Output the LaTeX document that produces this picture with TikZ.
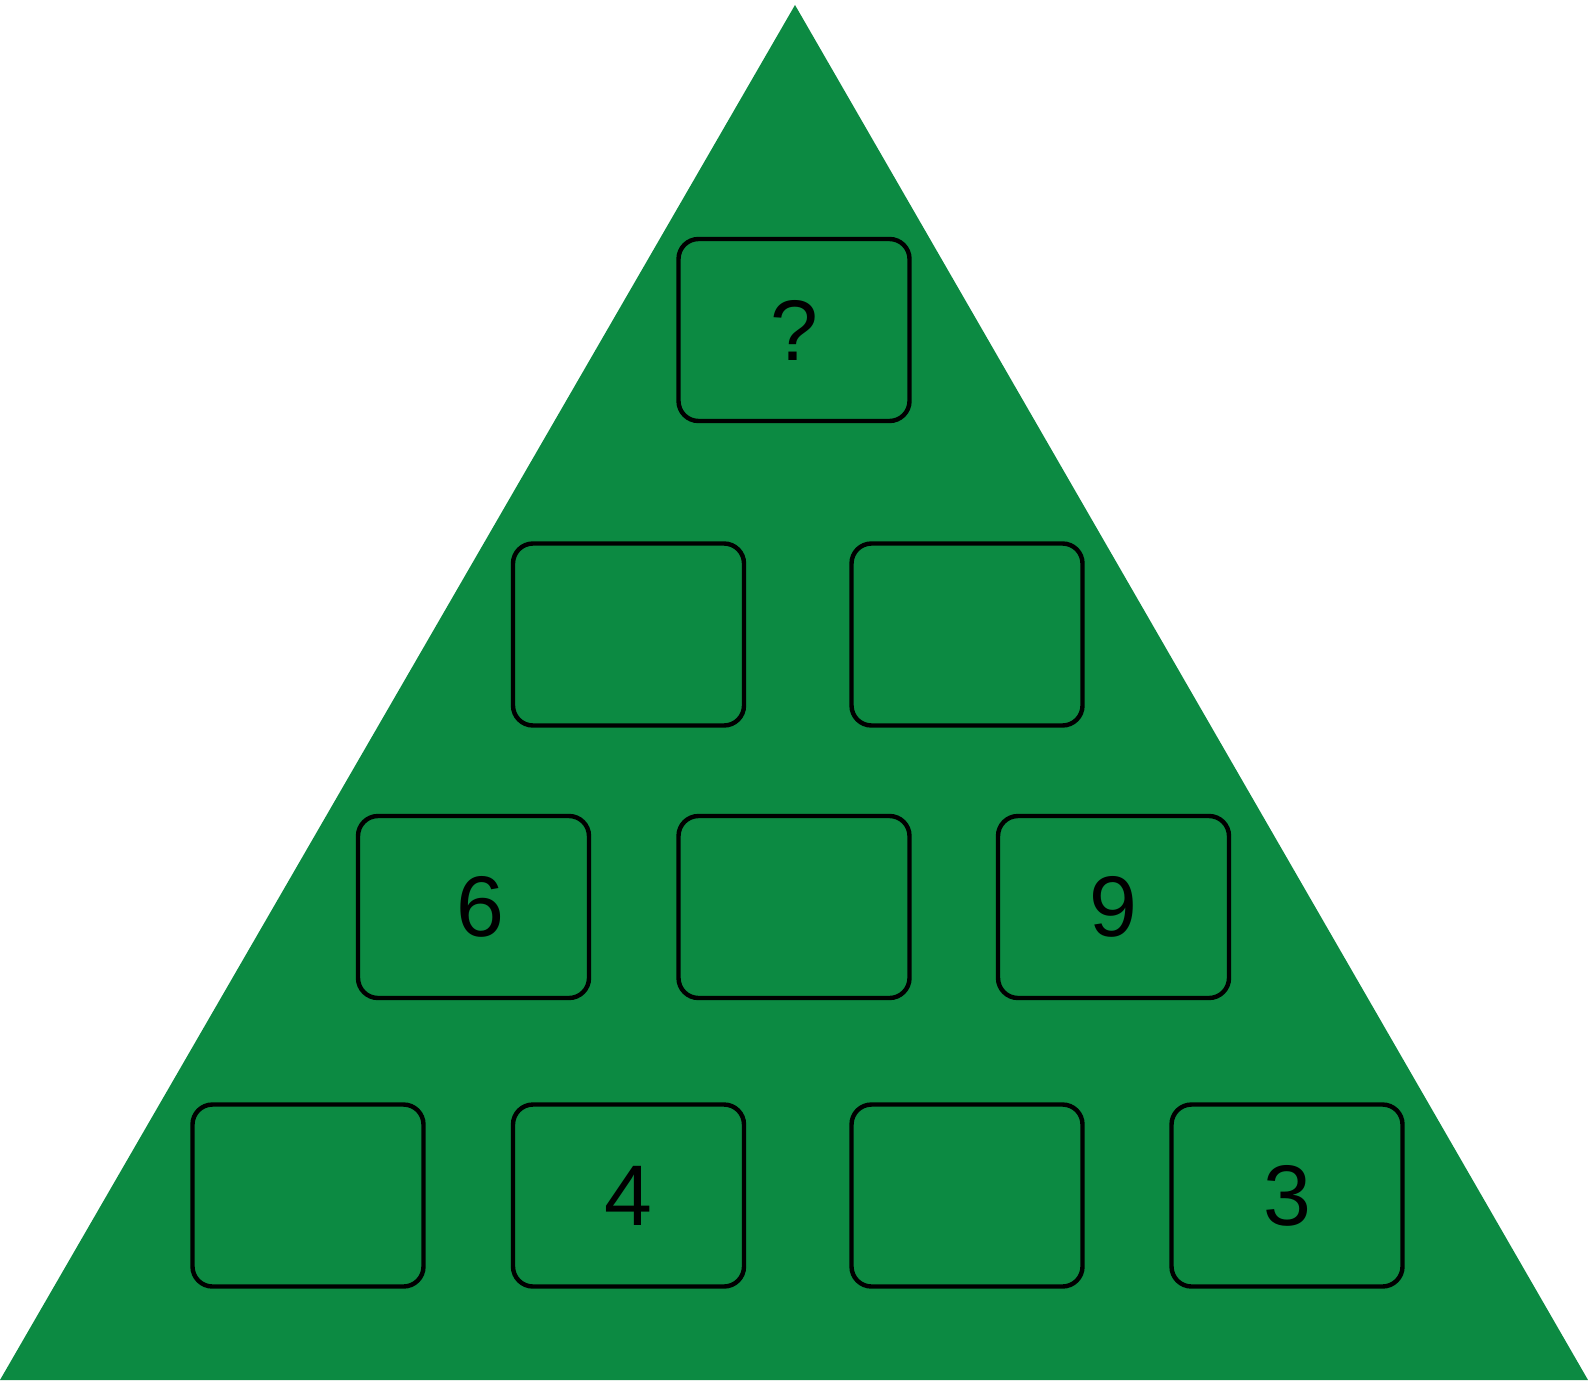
\documentclass[tikz,border=0pt]{standalone}
\usepackage{fontspec}
\setmainfont{Liberation Sans}
\usetikzlibrary{positioning}
\definecolor{PyrGreen}{RGB}{12,138,66}
\definecolor{PyrInk}{RGB}{0,0,0}
\tikzset{
  pyr/cell/.style={
    draw=PyrInk,
    line width=2.2pt,
    rounded corners=10pt,
    fill=PyrGreen,
    align=center,
    text=PyrInk,
    minimum width=115.5pt,
    minimum height=91pt,
    inner sep=0pt,
    font=\fontsize{43}{50}\selectfont
  },
  pyr/body/.style={fill=PyrGreen, draw=none}
}
\begin{document}
\begin{tikzpicture}[x=0.5pt,y=-0.5pt]
  \useasboundingbox (0,0) rectangle (1588,1380);
  \fill[pyr/body] (795,5) -- (1588,1380) -- (0,1380) -- cycle;
  % top
  \node[pyr/cell] (top) at (794,330) {?};
  % second row
  \node[pyr/cell] (r2a) at (628.5,634.5) {};
  \node[pyr/cell] (r2b) at (967,634.5) {};
  % third row
  \node[pyr/cell] (r3a) at (473.5,907) {\hspace*{7pt}6};
  \node[pyr/cell] (r3b) at (794,907) {};
  \node[pyr/cell] (r3c) at (1113.5,907) {9};
  % base row
  \node[pyr/cell] (r4a) at (308,1195.5) {};
  \node[pyr/cell] (r4b) at (628.5,1195.5) {4};
  \node[pyr/cell] (r4c) at (967,1195.5) {};
  \node[pyr/cell] (r4d) at (1287,1195.5) {3};
\end{tikzpicture}
\end{document}
